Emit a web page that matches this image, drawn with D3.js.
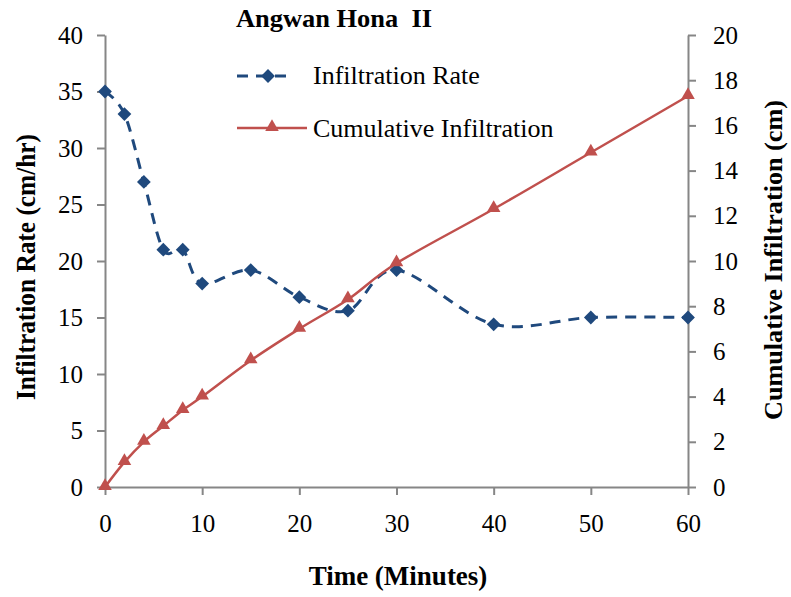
<!DOCTYPE html>
<html>
<head>
<meta charset="utf-8">
<script src="https://cdn.jsdelivr.net/npm/d3@7"></script>
<style>
  body { margin: 0; background: #fff; }
  text { font-family: "Liberation Serif", "Times New Roman", serif; fill: #000; }
</style>
</head>
<body>
<svg id="chart" width="791" height="597"></svg>
<script>
// Data
var times = [0, 2, 4, 6, 8, 10, 15, 20, 25, 30, 40, 50, 60];
var rate = [35, 33, 27, 21, 21, 18, 19.2, 16.8, 15.6, 19.2, 14.4, 15, 15];
var cumulative = [0, 1.1, 2, 2.7, 3.4, 4, 5.6, 7, 8.3, 9.9, 12.3, 14.8, 17.3];
var xTicks = [0, 10, 20, 30, 40, 50, 60];
var leftTicks = [0, 5, 10, 15, 20, 25, 30, 35, 40];
var rightTicks = [0, 2, 4, 6, 8, 10, 12, 14, 16, 18, 20];

var blue = "#1F497D", red = "#C0504D", grey = "#868686";

var svg = d3.select("#chart");

var x = d3.scaleLinear().domain([0, 60]).range([105, 688]);
var yL = d3.scaleLinear().domain([0, 40]).range([487, 35]);
var yR = d3.scaleLinear().domain([0, 20]).range([487, 35]);

//Axes
function styleAxis(g) {
  g.selectAll("path").attr("stroke", grey).attr("stroke-width", 2);
  g.selectAll("line").attr("stroke", grey).attr("stroke-width", 2);
  g.selectAll("text").attr("font-size", "25px")
    .style("font-family", "'Liberation Serif', serif").attr("fill", "#000");
}

svg.append("g")
  .attr("transform", "translate(0,487)")
  .call(d3.axisBottom(x).tickValues(xTicks).tickSize(8).tickSizeOuter(0).tickPadding(19))
  .call(styleAxis);

svg.append("g")
  .attr("transform", "translate(105,0)")
  .call(d3.axisLeft(yL).tickValues(leftTicks).tickSize(8).tickSizeOuter(0).tickPadding(14))
  .call(styleAxis);

svg.append("g")
  .attr("transform", "translate(688,0)")
  .call(d3.axisRight(yR).tickValues(rightTicks).tickSize(8).tickSizeOuter(0).tickPadding(17))
  .call(styleAxis);

//Axis titles
svg.append("text")
  .attr("x", 398).attr("y", 585)
  .attr("text-anchor", "middle")
  .attr("font-size", "27px").attr("font-weight", "bold")
  .text("Time (Minutes)");

svg.append("text")
  .attr("transform", "translate(35,267) rotate(-90)")
  .attr("text-anchor", "middle")
  .attr("font-size", "27px").attr("font-weight", "bold")
  .attr("textLength", 266).attr("lengthAdjust", "spacingAndGlyphs")
  .text("Infiltration Rate (cm/hr)");

svg.append("text")
  .attr("transform", "translate(782,260) rotate(-90)")
  .attr("text-anchor", "middle")
  .attr("font-size", "26px").attr("font-weight", "bold")
  .attr("textLength", 320).attr("lengthAdjust", "spacingAndGlyphs")
  .text("Cumulative Infiltration (cm)");

//Lines
var rateLine = d3.line()
  .x(function(d, i) { return x(times[i]); })
  .y(function(d) { return yL(d); })
  .curve(d3.curveCatmullRom.alpha(0));

var cumLine = d3.line()
  .x(function(d, i) { return x(times[i]); })
  .y(function(d) { return yR(d); })
  .curve(d3.curveCatmullRom.alpha(0));

svg.append("path")
  .datum(rate)
  .attr("d", rateLine)
  .attr("fill", "none")
  .attr("stroke", blue)
  .attr("stroke-width", 3)
  .attr("stroke-dasharray", "11,8");

var diamond = d3.symbol().type(d3.symbolSquare).size(95);
svg.selectAll(".rate-pt")
  .data(rate)
  .enter().append("path")
  .attr("class", "rate-pt")
  .attr("transform", function(d, i) { return "translate(" + x(times[i]) + "," + yL(d) + ") rotate(45)"; })
  .attr("d", diamond)
  .attr("fill", blue);

svg.append("path")
  .datum(cumulative)
  .attr("d", cumLine)
  .attr("fill", "none")
  .attr("stroke", red)
  .attr("stroke-width", 2.5);

var tri = d3.symbol().type(d3.symbolTriangle).size(80);
svg.selectAll(".cum-pt")
  .data(cumulative)
  .enter().append("path")
  .attr("class", "cum-pt")
  .attr("transform", function(d, i) { return "translate(" + x(times[i]) + "," + (yR(d) - 1) + ")"; })
  .attr("d", tri)
  .attr("fill", red);

//Title
svg.append("text")
  .attr("x", 236).attr("y", 27)
  .attr("font-size", "25px").attr("font-weight", "bold")
  .attr("textLength", 196).attr("lengthAdjust", "spacingAndGlyphs")
  .style("white-space", "pre")
  .text("Angwan Hona  II");

//Legend
var legend = svg.append("g");
legend.append("line")
  .attr("x1", 237).attr("x2", 293).attr("y1", 76).attr("y2", 76)
  .attr("stroke", blue).attr("stroke-width", 3).attr("stroke-dasharray", "11,8");
legend.append("path")
  .attr("transform", "translate(268,76) rotate(45)")
  .attr("d", diamond).attr("fill", blue);
legend.append("text")
  .attr("x", 313).attr("y", 84)
  .attr("font-size", "26px")
  .text("Infiltration Rate");

legend.append("line")
  .attr("x1", 237).attr("x2", 307).attr("y1", 128).attr("y2", 128)
  .attr("stroke", red).attr("stroke-width", 2.5);
legend.append("path")
  .attr("transform", "translate(272,127)")
  .attr("d", tri).attr("fill", red);
legend.append("text")
  .attr("x", 313).attr("y", 137)
  .attr("font-size", "26px")
  .text("Cumulative Infiltration");
</script>
</body>
</html>
